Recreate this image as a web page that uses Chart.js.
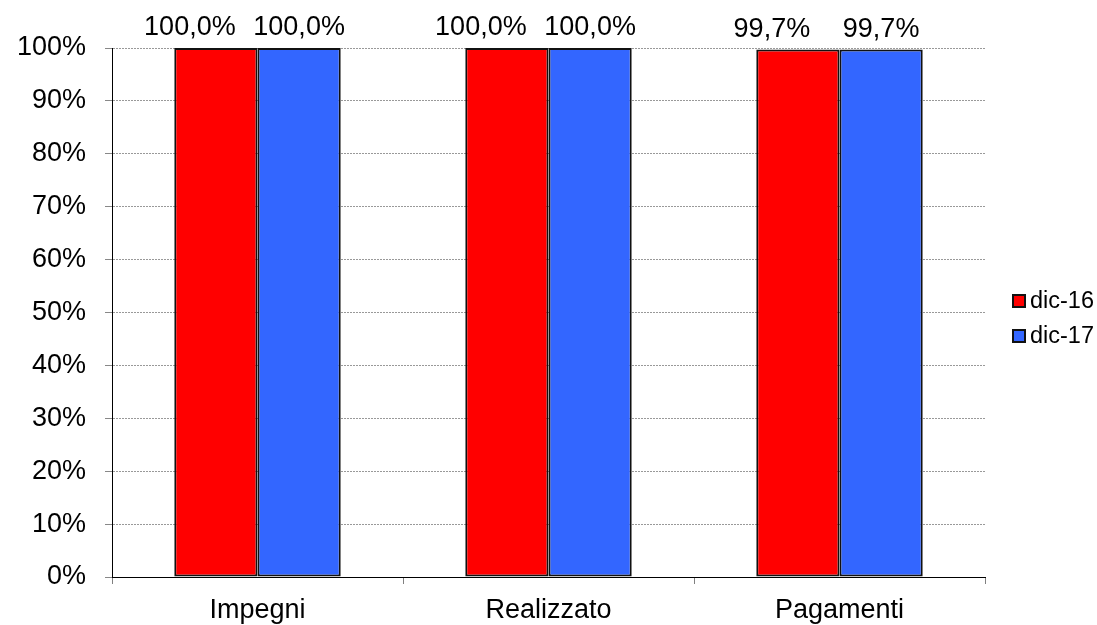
<!DOCTYPE html>
<html>
<head>
<meta charset="utf-8">
<script src="https://cdn.jsdelivr.net/npm/chart.js@4"></script>
<style>
  html, body { margin: 0; padding: 0; background: #fff; }
  #wrap { width: 1097px; height: 625px; }
</style>
</head>
<body>
<div id="wrap"><canvas id="barChart"></canvas></div>
<script>
// values
var categories = ['Impegni', 'Realizzato', 'Pagamenti'];
var seriesNames = ['dic-16', 'dic-17'];
var dic16 = [100.0, 100.0, 99.7];
var dic17 = [100.0, 100.0, 99.7];
var seriesColors = ['#ff0000', '#3366ff'];

var FONT = '"Liberation Sans", Arial, sans-serif';

// percentage labels above the bars, comma as decimal separator
// (first series labels sit a bit to the left, as in the original)
var valueLabels = {
    id: 'valueLabels',
    afterDatasetsDraw: function (chart) {
        var ctx = chart.ctx;
        ctx.save();
        ctx.font = '27px ' + FONT;
        ctx.fillStyle = '#000';
        ctx.textAlign = 'center';
        ctx.textBaseline = 'alphabetic';
        chart.data.datasets.forEach(function (ds, i) {
            var shift = i === 0 ? -26 : 0;
            chart.getDatasetMeta(i).data.forEach(function (bar, j) {
                var txt = ds.data[j].toFixed(1).replace('.', ',') + '%';
                ctx.fillText(txt, bar.x + shift, bar.y - 13);
            });
        });
        ctx.restore();
    }
};

// legend on the right, drawn beside the plot
var sideLegend = {
    id: 'sideLegend',
    afterDraw: function (chart) {
        var ctx = chart.ctx;
        var x = chart.chartArea.right + 28;
        var y0 = 301;
        ctx.save();
        ctx.font = '23.5px ' + FONT;
        ctx.textBaseline = 'middle';
        ctx.textAlign = 'left';
        chart.data.datasets.forEach(function (ds, i) {
            var y = y0 + i * 35;
            ctx.fillStyle = ds.backgroundColor;
            ctx.fillRect(x, y - 6, 12, 12);
            ctx.strokeStyle = '#111';
            ctx.lineWidth = 2;
            ctx.strokeRect(x, y - 6, 12, 12);
            ctx.fillStyle = '#000';
            ctx.fillText(ds.label, x + 17, y + 1);
        });
        ctx.restore();
    }
};

document.addEventListener('DOMContentLoaded', function () {
    var ctx = document.getElementById('barChart').getContext('2d');
    new Chart(ctx, {
        type: 'bar',
        data: {
            labels: categories,
            datasets: [{
                label: seriesNames[0],
                data: dic16,
                backgroundColor: seriesColors[0],
                borderColor: '#111',
                borderWidth: 2,
                borderSkipped: false
            }, {
                label: seriesNames[1],
                data: dic17,
                backgroundColor: seriesColors[1],
                borderColor: '#111',
                borderWidth: 2,
                borderSkipped: false
            }]
        },
        options: {
            responsive: true,
            maintainAspectRatio: false,
            animation: false,
            categoryPercentage: 0.572,
            barPercentage: 1.0,
            layout: { padding: { top: 48, left: 0, right: 112, bottom: 0 } },
            plugins: {
                tooltip: { enabled: false },
                legend: { display: false }
            },
            scales: {
                x: {
                    afterFit: function (scale) { scale.height = 48; },
                    grid: {
                        offset: true,
                        drawOnChartArea: false,
                        drawTicks: true,
                        tickLength: 7,
                        color: '#808080'
                    },
                    border: { display: true, color: '#000', width: 1 },
                    ticks: {
                        font: { family: FONT, size: 27 },
                        color: '#000',
                        padding: 10
                    }
                },
                y: {
                    min: 0,
                    max: 100,
                    afterFit: function (scale) { scale.width = 112; },
                    ticks: {
                        stepSize: 10,
                        font: { family: FONT, size: 27 },
                        color: '#000',
                        padding: 19,
                        callback: function (v) { return v + '%'; }
                    },
                    grid: {
                        color: '#999',
                        lineWidth: 1,
                        tickLength: 7,
                        tickColor: '#888',
                        tickBorderDash: [],
                        tickWidth: 1
                    },
                    border: { display: true, color: '#000', width: 1, dash: [2, 1] }
                }
            }
        },
        plugins: [valueLabels, sideLegend]
    });
});
</script>
</body>
</html>
